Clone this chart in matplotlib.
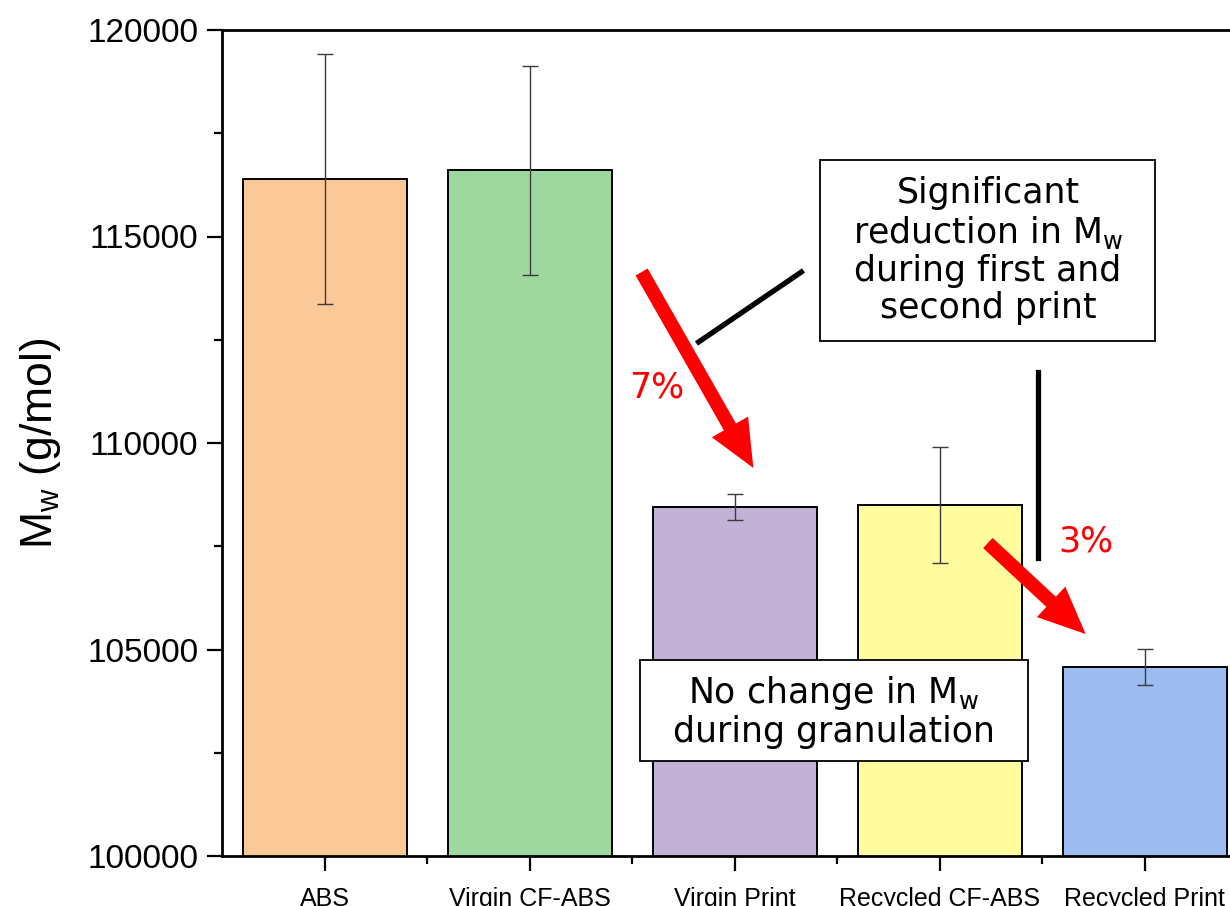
import numpy as np
import matplotlib.pyplot as plt
from matplotlib.patches import Rectangle
from matplotlib.ticker import MultipleLocator, FixedLocator

# Molecular weight per sample
samples = ['ABS', 'Virgin CF-ABS', 'Virgin Print', 'Recycled CF-ABS', 'Recycled Print']
mw = [116400, 116600, 108450, 108500, 104570]
mw_err = [3030, 2530, 315, 1400, 440]
colors = ['#FBC897', '#9FD89F', '#C2B2D6', '#FFFD9E', '#9BBBF1']

plt.rcParams['font.family'] = ['Liberation Sans', 'DejaVu Sans']
note_font = 'DejaVu Sans'

fig = plt.figure(figsize=(12.3, 9.06), dpi=100)
ax = fig.add_axes([222/1230, 50/906, 1025/1230, 826/906])

x = np.arange(len(samples))
ax.bar(x, mw, width=0.8, color=colors, edgecolor='black', linewidth=1.4, zorder=2)
ax.errorbar(x, mw, yerr=mw_err, fmt='none', ecolor='#3a3a3a', elinewidth=1,
            capsize=6, capthick=1, zorder=3)

ax.set_xlim(-0.5, 4.5)
ax.set_ylim(100000, 120000)
ax.yaxis.set_major_locator(MultipleLocator(5000))
ax.yaxis.set_minor_locator(MultipleLocator(2500))
ax.set_xticks(x)
ax.set_xticklabels(samples, fontsize=18)
ax.xaxis.set_minor_locator(FixedLocator(x[:-1] + 0.5))
ax.tick_params(axis='y', labelsize=24)
ax.tick_params(which='major', direction='out', length=11, width=1.6, pad=6)
ax.tick_params(which='minor', direction='out', length=6, width=1.6)
ax.tick_params(axis='x', which='major', pad=11)

for side in ['left', 'bottom', 'top', 'right']:
    ax.spines[side].set_linewidth(2)

ax.set_ylabel(r'M$_\mathregular{w}$ (g/mol)', fontsize=32)
ax.yaxis.set_label_coords(-0.155, 0.5)

# Annotation boxes
ax.add_patch(Rectangle((2.418, 112470), 4.049 - 2.418, 116852 - 112470,
                       facecolor='white', edgecolor='black', linewidth=1.3, zorder=4))
ax.text(3.236, 114661, 'Significant\nreduction in M$_\\mathregular{w}$\nduring first and\nsecond print',
        ha='center', va='center', fontsize=25, family=note_font, linespacing=1.12, zorder=5)

ax.add_patch(Rectangle((1.538, 102300), 3.431 - 1.538, 104746 - 102300,
                       facecolor='white', edgecolor='black', linewidth=1.3, zorder=4))
ax.text(2.484, 103500, 'No change in M$_\\mathregular{w}$\nduring granulation',
        ha='center', va='center', fontsize=25, family=note_font, linespacing=1.12, zorder=5)

# Connector lines
ax.plot([1.825, 2.326], [112446, 114140], color='black', linewidth=3.8, zorder=4)
ax.plot([3.479, 3.479], [107216, 111719], color='black', linewidth=3.8, zorder=4)

# Red arrows with percentage drops
arrow_kw = dict(facecolor='red', edgecolor='none', width=10, headwidth=30,
                headlength=34, shrink=0)
ax.annotate('', xy=(2.092, 109395), xytext=(1.547, 114140), arrowprops=arrow_kw, zorder=6)
ax.annotate('', xy=(3.713, 105375), xytext=(3.236, 107579), arrowprops=arrow_kw, zorder=6)
ax.text(1.620, 111332, '7%', color='red', fontsize=25, family=note_font,
        ha='center', va='center', zorder=6)
ax.text(3.713, 107603, '3%', color='red', fontsize=25, family=note_font,
        ha='center', va='center', zorder=6)

fig.savefig('out.png', dpi=100)
